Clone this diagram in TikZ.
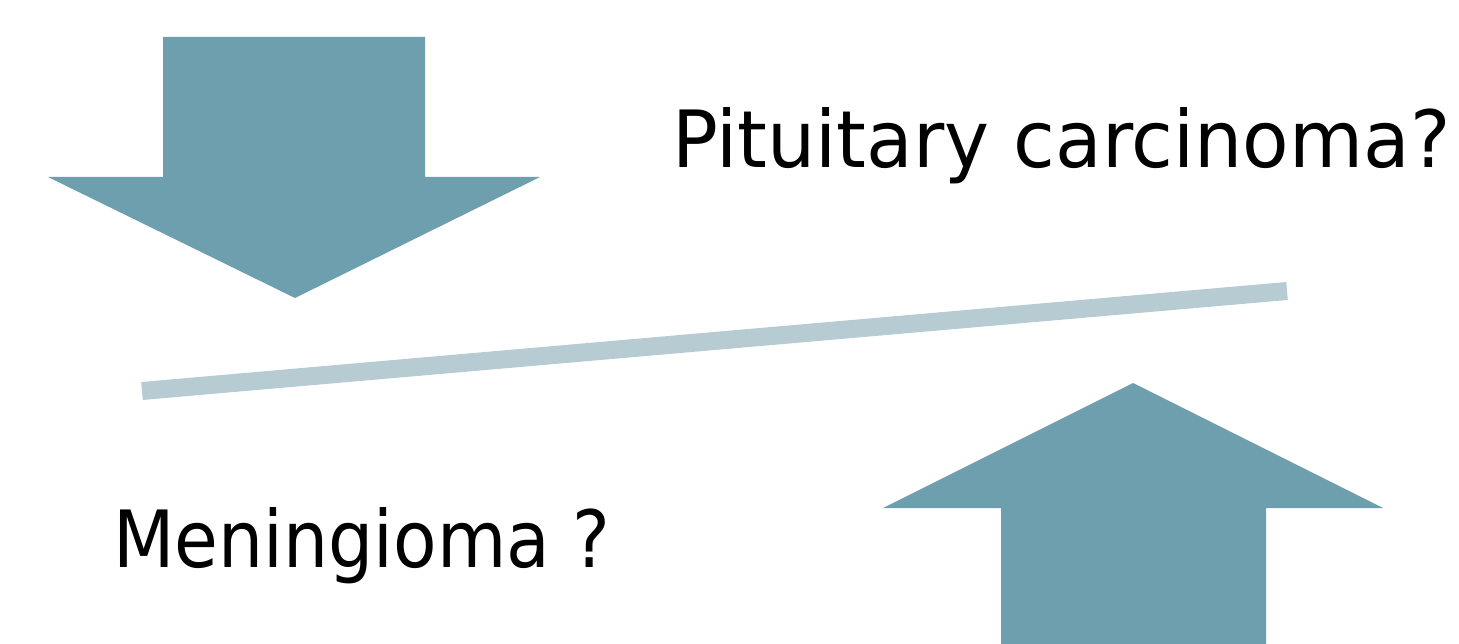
\documentclass[tikz,border=0pt]{standalone}
\usepackage{fontspec}
\setmainfont{DejaVu Sans}
\usepackage{graphicx}
\definecolor{arrowc}{HTML}{6E9FAE}
\definecolor{linec}{HTML}{B7CBD3}
\begin{document}
\begin{tikzpicture}[x=0.02cm,y=-0.02cm,
  bigarrow/.style={fill=arrowc,draw=none},
  lbl/.style={inner sep=0pt,anchor=base west}]
\useasboundingbox (0,0) rectangle (1459,644);
% down arrow
\fill[bigarrow] (163,37) -- (425,37) -- (425,177) -- (540,177) -- (295,298) -- (48,177) -- (163,177) -- cycle;
% up arrow
\fill[bigarrow] (1001,644) -- (1001,508) -- (883,508) -- (1133,383) -- (1383,508) -- (1266,508) -- (1266,644) -- cycle;
% balance line
\coordinate (l1) at (142,391);
\coordinate (l2) at (1287,291);
\draw[linec,line width=0.36cm] (l1) -- (l2);
\node[lbl] (pit) at (672,168) {\resizebox{15.56cm}{1.2cm}{Pituitary carcinoma?}};
\node[lbl] (men) at (113,567) {\resizebox{9.94cm}{1.2cm}{Meningioma ?}};
\end{tikzpicture}
\end{document}
